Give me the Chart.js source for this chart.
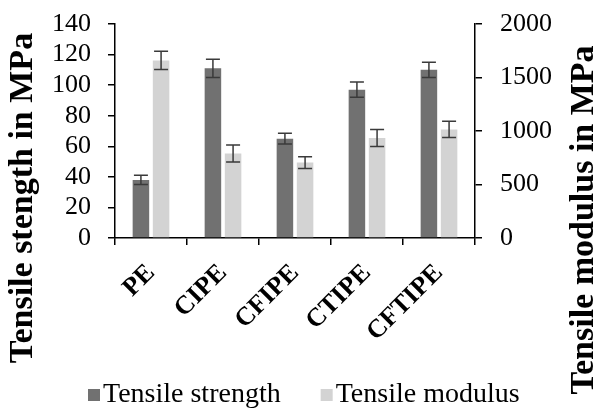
<!DOCTYPE html>
<html>
<head>
<meta charset="utf-8">
<script src="https://cdn.jsdelivr.net/npm/chart.js@4.4.1/dist/chart.umd.min.js"></script>
<style>
  body { margin: 0; background: #fff; }
  #wrap { width: 597px; height: 408px; }
</style>
</head>
<body>
<div id="wrap"><canvas id="tensileChart"></canvas></div>
<script>
// samples
var categories = ['PE', 'CIPE', 'CFIPE', 'CTIPE', 'CFTIPE'];
// tensile strength (MPa, left axis) with std deviation
var strength = [38, 111, 65, 97, 110];
var strengthErr = [3, 6, 3.5, 5, 5];
// tensile modulus (MPa, right axis) with std deviation
var modulus = [1660, 790, 705, 935, 1015];
var modulusErr = [85, 80, 55, 80, 75];

var serif = "'Liberation Serif', 'Times New Roman', serif";

// error bars, drawn on top of each bar through its own y scale
var errorBars = {
  id: 'errorBars',
  afterDatasetsDraw: function (chart) {
    var ctx = chart.ctx;
    ctx.save();
    ctx.strokeStyle = '#3a3a3a';
    ctx.lineWidth = 1.5;
    chart.data.datasets.forEach(function (ds, i) {
      var meta = chart.getDatasetMeta(i);
      var scale = chart.scales[ds.yAxisID];
      meta.data.forEach(function (bar, j) {
        var v = ds.data[j], e = ds.errors[j];
        var yTop = scale.getPixelForValue(v + e);
        var yBot = scale.getPixelForValue(v - e);
        var half = 7;
        ctx.beginPath();
        ctx.moveTo(bar.x, yTop); ctx.lineTo(bar.x, yBot);
        ctx.moveTo(bar.x - half, yTop); ctx.lineTo(bar.x + half, yTop);
        ctx.moveTo(bar.x - half, yBot); ctx.lineTo(bar.x + half, yBot);
        ctx.stroke();
      });
    });
    ctx.restore();
  }
};

// both axis titles read bottom to top
var axisTitles = {
  id: 'axisTitles',
  afterDraw: function (chart) {
    var ctx = chart.ctx;
    ctx.save();
    ctx.font = 'bold 34px ' + serif;
    ctx.fillStyle = '#000';
    ctx.textAlign = 'center';
    ctx.textBaseline = 'middle';
    [[23, 198, 'Tensile stength in MPa'], [584, 220, 'Tensile modulus in MPa']].forEach(function (t) {
      ctx.save();
      ctx.translate(t[0], t[1]);
      ctx.rotate(-Math.PI / 2);
      ctx.fillText(t[2], 0, 0);
      ctx.restore();
    });
    ctx.restore();
  }
};

// legend with the square sitting right against its text
var tightLegend = {
  id: 'tightLegend',
  afterDraw: function (chart) {
    var ctx = chart.ctx;
    ctx.save();
    ctx.font = '28px ' + serif;
    ctx.textBaseline = 'middle';
    ctx.textAlign = 'left';
    var x = 88, y = 395, box = 12;
    chart.data.datasets.forEach(function (ds) {
      ctx.fillStyle = ds.backgroundColor;
      ctx.fillRect(x, y - box / 2, box, box);
      ctx.fillStyle = '#000';
      ctx.fillText(ds.label, x + box + 3, y);
      x += box + 3 + ctx.measureText(ds.label).width + 40;
    });
    ctx.restore();
  }
};

// fixed axis widths, no extra room for the end labels
function fixWidth(w) {
  return function (s) {
    s.width = w;
    s.paddingTop = 0;
    s.paddingBottom = 0;
  };
}

var ctx = document.getElementById('tensileChart').getContext('2d');
var tensileChart = new Chart(ctx, {
  type: 'bar',
  data: {
    labels: categories,
    datasets: [{
      label: 'Tensile strength',
      data: strength,
      errors: strengthErr,
      yAxisID: 'y',
      backgroundColor: '#717171',
      categoryPercentage: 0.56,
      barPercentage: 0.82
    }, {
      label: 'Tensile modulus',
      data: modulus,
      errors: modulusErr,
      yAxisID: 'y2',
      backgroundColor: '#d3d3d3',
      categoryPercentage: 0.56,
      barPercentage: 0.82
    }]
  },
  options: {
    responsive: true,
    maintainAspectRatio: false,
    animation: false,
    layout: { padding: { top: 24, left: 0, right: 0, bottom: 44 } },
    plugins: {
      tooltip: { enabled: false },
      legend: { display: false }
    },
    scales: {
      x: {
        grid: { display: true, drawOnChartArea: false, tickLength: 7, color: '#000', lineWidth: 1.5 },
        border: { color: '#000', width: 1.5 },
        ticks: {
          color: '#000',
          font: { family: serif, size: 26, weight: 'bold' },
          maxRotation: 45, minRotation: 45, autoSkip: false, padding: 13
        },
        afterFit: function (s) { s.height = 126; }
      },
      y: {
        position: 'left',
        min: 0, max: 140,
        grid: { display: true, drawOnChartArea: false, tickLength: 7, color: '#000', lineWidth: 1.5 },
        border: { color: '#000', width: 1.5 },
        ticks: {
          stepSize: 20, autoSkip: false, color: '#000', font: { family: serif, size: 26 }, padding: 17,
          callback: function (v) { return v.toString(); }
        },
        afterFit: fixWidth(115)
      },
      y2: {
        position: 'right',
        min: 0, max: 2000,
        grid: { display: true, drawOnChartArea: false, tickLength: 7, color: '#000', lineWidth: 1.5 },
        border: { color: '#000', width: 1.5 },
        ticks: {
          stepSize: 500, autoSkip: false, color: '#000', font: { family: serif, size: 26 }, padding: 18,
          callback: function (v) { return v.toString(); }
        },
        afterFit: fixWidth(122)
      }
    }
  },
  plugins: [errorBars, axisTitles, tightLegend]
});
</script>
</body>
</html>
